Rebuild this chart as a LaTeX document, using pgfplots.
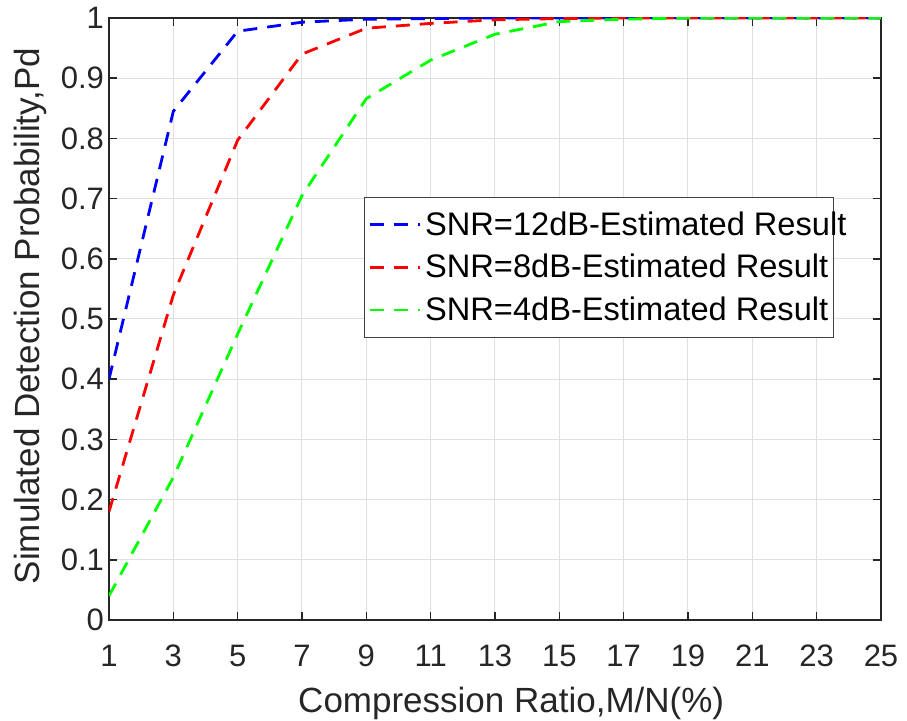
\documentclass[border=0pt]{standalone}
\usepackage{fontspec}
\setmainfont{Liberation Sans}
\usepackage{pgfplots}
\pgfplotsset{compat=1.18}
\definecolor{axgray}{rgb}{0.15,0.15,0.15}
\begin{document}
\begin{tikzpicture}
\path[use as bounding box] (-54.5pt,-50.5pt) rectangle (399pt,310pt);
\begin{axis}[
  scale only axis,
  width=386pt, height=301pt,
  xmin=1, xmax=25, ymin=0, ymax=1,
  xtick={1,3,5,7,9,11,13,15,17,19,21,23,25},
  ytick={0,0.1,0.2,0.3,0.4,0.5,0.6,0.7,0.8,0.9,1},
  yticklabels={0,0.1,0.2,0.3,0.4,0.5,0.6,0.7,0.8,0.9,1},
  tick pos=both,
  tick align=inside,
  major tick length=4pt,
  tick style={axgray, line width=0.75pt},
  axis line style={axgray, line width=0.9pt},
  grid=major,
  grid style={black!12, line width=0.5pt},
  /pgf/number format/assume math mode=true,
  ticklabel style={font=\fontsize{15.5}{16}\selectfont, text=axgray},
  xticklabel style={yshift=-9pt},
  yticklabel style={xshift=1pt},
  xlabel={Compression Ratio,M/N(\%)},
  ylabel={Simulated Detection Probability,Pd},
  label style={font=\fontsize{17.5}{18}\selectfont, text=axgray},
  xlabel style={at={(axis description cs:0.521,-0.153)}, anchor=base},
  ylabel style={at={(axis description cs:-0.0894,0.505)}, anchor=base},
  legend style={at={(0.33,0.703)}, anchor=north west, draw=black!75, line width=0.6pt,
    fill=white, font=\fontsize{16.3}{17}\selectfont, row sep=4pt, inner xsep=2pt, inner ysep=5pt},
  legend cell align=left,
  legend image code/.code={\path (0pt,0pt) -- (25pt,0pt);\draw[#1, line width=1.1pt, dash pattern=on 6pt off 7pt] (0pt,0pt) -- (19pt,0pt);},
  every axis plot/.append style={line width=1.4pt, dash pattern=on 7pt off 5pt},
]
\addplot[blue] coordinates {(1,0.40) (3,0.845) (5,0.978) (7,0.993) (9,0.998) (11,0.999) (13,1) (15,1) (17,1) (19,1) (21,1) (23,1) (25,1)};
\addlegendentry{\makebox[200pt][l]{SNR=12dB-Estimated Result}}
\addplot[red] coordinates {(1,0.18) (3,0.54) (5,0.797) (7,0.94) (9,0.983) (11,0.991) (13,0.997) (15,0.999) (17,1) (19,1) (21,1) (23,1) (25,1)};
\addlegendentry{\makebox[200pt][l]{SNR=8dB-Estimated Result}}
\addplot[green] coordinates {(1,0.04) (3,0.237) (5,0.475) (7,0.705) (9,0.866) (11,0.93) (13,0.973) (15,0.994) (17,0.998) (19,1) (21,1) (23,1) (25,1)};
\addlegendentry{\makebox[200pt][l]{SNR=4dB-Estimated Result}}
\end{axis}
\end{tikzpicture}
\end{document}
